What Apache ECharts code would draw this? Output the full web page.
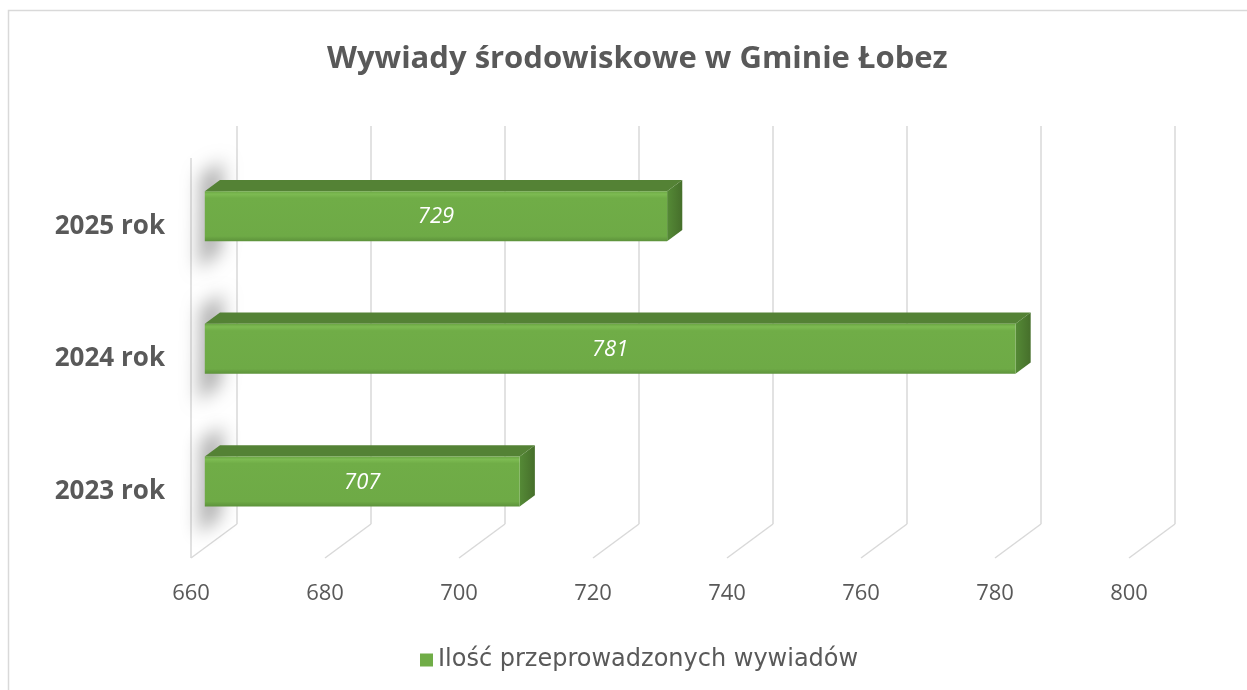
<!DOCTYPE html>
<html>
<head>
<meta charset="utf-8">
<script src="https://cdn.jsdelivr.net/npm/echarts@6/dist/echarts.min.js"></script>
<style>
  html, body { margin: 0; padding: 0; background: #fff; }
  #chart { width: 1247px; height: 690px; }
</style>
</head>
<body>
<div id="chart"></div>
<script>
const categories = ['2023 rok', '2024 rok', '2025 rok']
const values = [707, 781, 729]
const xTicks = [660, 680, 700, 720, 740, 760, 780, 800]
const seriesName = 'Ilość przeprowadzonych wywiadów'

const X_MIN = 660
const DX = 46, DY = -34          // depth vector front -> back wall
const F1 = 0.3, F2 = 0.63        // bar depth (front face / back face)
const BAR_H = 50
const GRID_COLOR = '#d9d9d9'
const FONT = "'Open Sans', sans-serif"

const chart = echarts.init(document.getElementById('chart'), null, { renderer: 'canvas' })

// back-wall gridlines + floor diagonals, placed by the value axis
function renderGridLines(params, api) {
  const cs = params.coordSys
  const x = api.coord([api.value(0), 0])[0]
  const top = cs.y, bottom = cs.y + cs.height
  const lineStyle = { stroke: GRID_COLOR, lineWidth: 1.5 }
  const children = [
    { type: 'line', shape: { x1: x + DX, y1: top + DY, x2: x + DX, y2: bottom + DY }, style: lineStyle },
    { type: 'line', shape: { x1: x + DX, y1: bottom + DY, x2: x, y2: bottom }, style: lineStyle }
  ]
  if (params.dataIndex === 0) {
    children.push({ type: 'line', shape: { x1: x, y1: top - 2, x2: x, y2: bottom }, style: lineStyle })
  }
  return { type: 'group', children }
}

// 3D-looking bar: front face, top face, side face, label
function renderBar(params, api) {
  const val = api.value(0), cat = api.value(1)
  const p0 = api.coord([X_MIN, cat])
  const p1 = api.coord([val, cat])
  const w = p1[0] - p0[0]
  const fx = p0[0] + DX * F1
  const fy = p0[1] + DY * F1 - BAR_H / 2
  const ddx = DX * (F2 - F1), ddy = DY * (F2 - F1)
  const off = 3000
  return {
    type: 'group',
    children: [
      { // blurred shadow at the bar's left end, drawn off-screen and offset back
        type: 'polygon',
        shape: { points: [[fx - 4 - off, fy - 16], [fx + 18 - off, fy - 30], [fx + 16 - off, fy + BAR_H + 10], [fx - 6 - off, fy + BAR_H + 28]] },
        style: { fill: '#000', shadowBlur: 18, shadowColor: 'rgba(0,0,0,0.32)', shadowOffsetX: off }
      },
      {
        type: 'polygon',
        shape: { points: [[fx, fy], [fx + w, fy], [fx + w + ddx, fy + ddy], [fx + ddx, fy + ddy]] },
        style: { fill: '#548235' }
      },
      {
        type: 'polygon',
        shape: { points: [[fx + w, fy], [fx + w + ddx, fy + ddy], [fx + w + ddx, fy + BAR_H + ddy], [fx + w, fy + BAR_H]] },
        style: {
          fill: new echarts.graphic.LinearGradient(0, 0, 1, 0, [
            { offset: 0, color: '#558a36' }, { offset: 1, color: '#466f2b' }
          ])
        }
      },
      {
        type: 'rect',
        shape: { x: fx, y: fy, width: w, height: BAR_H },
        style: {
          fill: new echarts.graphic.LinearGradient(0, 0, 0, 1, [
            { offset: 0, color: '#6aa543' },
            { offset: 0.06, color: '#7dbb52' },
            { offset: 0.14, color: '#70ad47' },
            { offset: 0.9, color: '#6eaa46' },
            { offset: 1, color: '#5d923b' }
          ])
        }
      },
      {
        type: 'text',
        style: {
          text: String(val), x: fx + w / 2, y: fy + BAR_H / 2 + 1,
          align: 'center', verticalAlign: 'middle',
          fill: '#ffffff', fontStyle: 'italic', fontSize: 22, fontFamily: FONT
        }
      }
    ]
  }
}

const option = {
  backgroundColor: '#ffffff',
  animation: false,
  title: {
    text: 'Wywiady środowiskowe w Gminie Łobez',
    left: 322, top: 39,
    textStyle: { color: '#595959', fontSize: 31, fontWeight: 'bold', fontFamily: FONT }
  },
  legend: {
    data: [seriesName],
    left: 415, top: 643,
    icon: 'rect', itemWidth: 13, itemHeight: 13, itemGap: 4,
    textStyle: { color: '#595959', fontSize: 24, fontFamily: "'DejaVu Sans', sans-serif" }
  },
  graphic: [
    {
      type: 'rect', silent: true, z: -10,
      shape: { x: 8.5, y: 10.5, width: 1300, height: 800 },
      style: { fill: 'none', stroke: GRID_COLOR, lineWidth: 1.5 }
    }
  ],
  grid: { left: 191, right: 118, top: 160, bottom: 132, containLabel: false },
  xAxis: {
    type: 'value', min: 660, max: 800, interval: 20,
    axisLine: { show: false }, axisTick: { show: false }, splitLine: { show: false },
    axisLabel: { color: '#595959', fontSize: 22, fontFamily: FONT, margin: 25 }
  },
  yAxis: {
    type: 'category', data: categories,
    axisLine: { show: false }, axisTick: { show: false }, splitLine: { show: false },
    axisLabel: { color: '#595959', fontSize: 26, fontWeight: 'bold', fontFamily: FONT, margin: 26 }
  },
  series: [
    {
      name: 'grid', type: 'custom', silent: true, z: 1,
      data: xTicks.map(v => [v, 0]),
      renderItem: renderGridLines
    },
    {
      name: seriesName, type: 'custom', z: 5,
      itemStyle: { color: '#70ad47' },
      data: values.map((v, i) => [v, i]),
      encode: { x: 0, y: 1 },
      renderItem: renderBar
    }
  ]
}

chart.setOption(option)
</script>
</body>
</html>
